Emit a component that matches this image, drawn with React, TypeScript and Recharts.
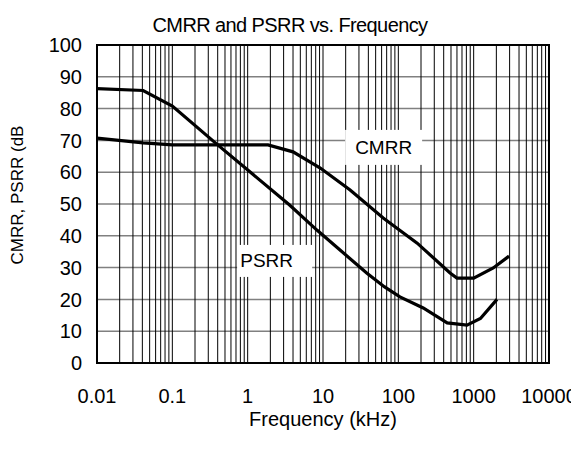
import React from 'react';
import { LineChart, Line, XAxis, YAxis, CartesianGrid, ReferenceLine, ReferenceArea, ReferenceDot } from 'recharts';

const FONT = '"Liberation Sans", Arial, sans-serif';

const xTicks = [0.01, 0.1, 1, 10, 100, 1000, 10000];
const yTicks = [0, 10, 20, 30, 40, 50, 60, 70, 80, 90, 100];
const decades = [0.01, 0.1, 1, 10, 100, 1000];
const multipliers = [1, 2, 3, 4, 5, 6, 7, 8, 9];

// PSRR curve (kHz, dB)
const psrrFreq = [0.01, 0.041, 0.1, 0.4, 3.6, 8.3, 38, 65, 105, 214, 445, 815, 1230, 2040];
const psrrDb = [86.3, 85.7, 80.8, 68.6, 49.7, 41.8, 28.3, 24, 20.8, 17.3, 12.6, 11.9, 14, 20];

// CMRR curve (kHz, dB)
const cmrrFreq = [0.01, 0.041, 0.1, 1.86, 4.0, 9.2, 22.9, 63, 178, 486, 600, 1000, 1820, 2950];
const cmrrDb = [70.7, 69.2, 68.6, 68.6, 66.4, 61.3, 54.4, 45.6, 37.7, 28.3, 26.7, 26.7, 29.9, 33.6];

const psrr = psrrFreq.map((f, i) => ({ f, db: psrrDb[i] }));
const cmrr = cmrrFreq.map((f, i) => ({ f, db: cmrrDb[i] }));

const gridX = decades
  .flatMap((d) => multipliers.map((m) => +(d * m).toPrecision(3)))
  .filter((v) => v > 0.01);

// curve labels: anchored at a data point, drawn as a white box with text
const tags = [
  { text: 'PSRR', f: 2.28, db: 32.1, w: 75, h: 32, dx: -8 },
  { text: 'CMRR', f: 63.8, db: 67.8, w: 77, h: 35, dx: 0 },
];

const tagShape = (t: (typeof tags)[number]) => (p: any) => (
  <g>
    <rect x={p.cx - t.w / 2} y={p.cy - t.h / 2} width={t.w} height={t.h} fill="#fff" />
    <text
      x={p.cx + t.dx}
      y={p.cy}
      textAnchor="middle"
      dominantBaseline="central"
      fontSize={19}
      fill="#000"
      style={{ fontFamily: FONT }}
    >
      {t.text}
    </text>
  </g>
);

export default function App() {
  return (
    <div style={{ position: 'relative', width: 571, height: 442, fontFamily: FONT }}>
      <LineChart
        width={571}
        height={442}
        margin={{ top: 37, right: 30, left: 19, bottom: 17 }}
        style={{ fontFamily: FONT }}
      >
        <CartesianGrid vertical={false} stroke="#808080" strokeWidth={1.5} />
        {gridX.map((v) => (
          <ReferenceLine key={v} x={v} stroke="#000" strokeWidth={1} />
        ))}
        <XAxis
          dataKey="f"
          type="number"
          scale="log"
          domain={[0.01, 10000]}
          ticks={xTicks}
          allowDataOverflow
          axisLine={false}
          tickLine={false}
          tickSize={6}
          tickMargin={20}
          height={70}
          tick={{ fill: '#000', fontSize: 20 }}
          label={{ value: 'Frequency (kHz)', position: 'insideBottom', offset: 7, fill: '#000', fontSize: 20 }}
        />
        <YAxis
          type="number"
          domain={[0, 100]}
          ticks={yTicks}
          axisLine={false}
          tickLine={false}
          tickSize={6}
          tickMargin={9}
          width={70}
          tick={{ fill: '#000', fontSize: 20 }}
        />
        <ReferenceArea x1={0.01} x2={10000} y1={0} y2={100} fill="none" stroke="#000" strokeWidth={2} />
        {tags.map((t) => (
          <ReferenceDot key={t.text} x={t.f} y={t.db} r={1} shape={tagShape(t)} />
        ))}
        <Line data={psrr} dataKey="db" type="linear" stroke="#000" strokeWidth={3.2} dot={false} isAnimationActive={false} />
        <Line data={cmrr} dataKey="db" type="linear" stroke="#000" strokeWidth={3.2} dot={false} isAnimationActive={false} />
        <text x={282} y={17} textAnchor="middle" fontSize={20} letterSpacing={-0.6} fill="#000" dominantBaseline="central">
          CMRR and PSRR vs. Frequency
        </text>
        <text
          x={9}
          y={187}
          textAnchor="middle"
          fontSize={17}
          fill="#000"
          dominantBaseline="central"
          transform="rotate(-90, 9, 187)"
        >
          CMRR, PSRR (dB
        </text>
      </LineChart>
    </div>
  );
}
